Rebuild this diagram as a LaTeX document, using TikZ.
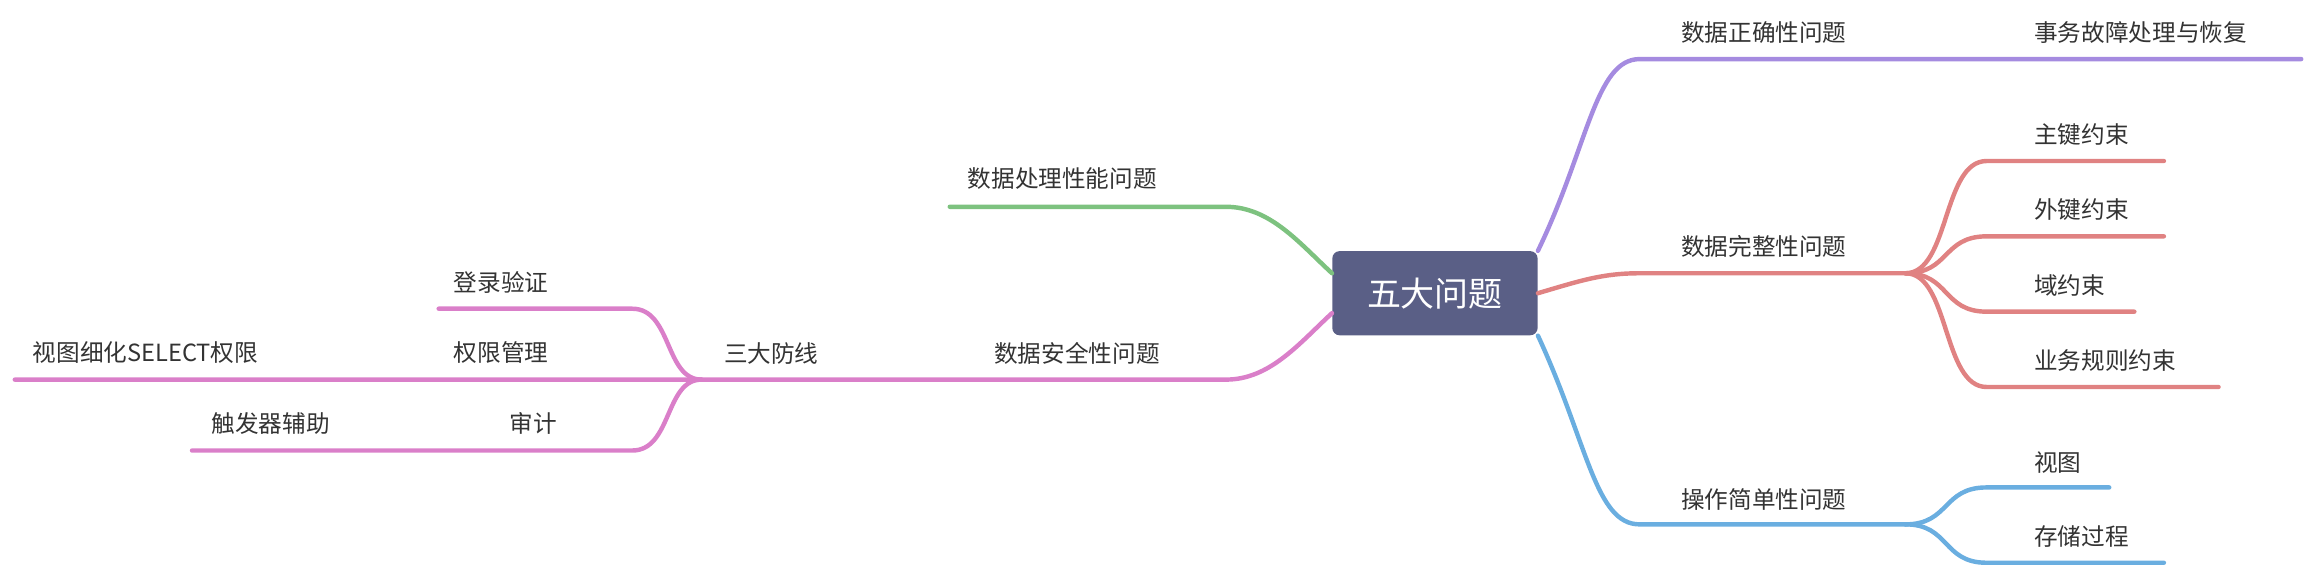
\documentclass[tikz,border=0pt]{standalone}
\usepackage{fontspec}
\newfontfamily\cjk{Noto Sans CJK SC}
\definecolor{rootc}{HTML}{5A5F86}
\definecolor{pur}{HTML}{A58BE0}
\definecolor{red}{HTML}{E08282}
\definecolor{blu}{HTML}{6AAEE0}
\definecolor{grn}{HTML}{7DC27F}
\definecolor{pnk}{HTML}{DA7FC9}
\definecolor{txt}{HTML}{333333}
\begin{document}
\begin{tikzpicture}[x=1pt,y=-1pt,
  lab/.style={anchor=west,inner sep=0pt,text=txt,font=\cjk\fontsize{16}{16}\selectfont},
  br/.style={line width=3pt,line cap=round}]
\useasboundingbox (0,0) rectangle (1568,384);
\node[fill=rootc,rounded corners=5pt,minimum width=139pt,minimum height=57pt,text=white,font=\cjk\fontsize{23}{23}\selectfont] (root) at (971.5,198.5) {五大问题};
% labels
\node[lab] (a) at (1138,22) {数据正确性问题};
\node[lab] (a1) at (1377,22) {事务故障处理与恢复};
\node[lab] (b) at (1138,167) {数据完整性问题};
\node[lab] (b1) at (1377,91) {主键约束};
\node[lab] (b2) at (1377,142) {外键约束};
\node[lab] (b3) at (1377,193) {域约束};
\node[lab] (b4) at (1377,244) {业务规则约束};
\node[lab] (c) at (1138,338) {操作简单性问题};
\node[lab] (c1) at (1377,313) {视图};
\node[lab] (c2) at (1377,363) {存储过程};
\node[lab] (d) at (655,121) {数据处理性能问题};
\node[lab] (e) at (673,239) {数据安全性问题};
\node[lab] (f) at (490,239) {三大防线};
\node[lab] (f1) at (307,191) {登录验证};
\node[lab] (f2) at (307,239) {权限管理};
\node[lab] (f3) at (345,287) {审计};
\node[lab] (g2) at (22,239) {视图细化SELECT权限};
\node[lab] (g3) at (143,287) {触发器辅助};
% right
\draw[br,pur] (root.north east) .. controls (1075,100) and (1080,40) .. (1110,40) -- (1558,40);
\draw[br,red] (root.east) .. controls (1070,190) and (1085,185) .. (1110,185) -- (1290,185);
\foreach \y/\e in {109/1465,160/1465,211/1445,262/1502}
  \draw[br,red] (1290,185) .. controls (1320,185) and (1315,\y) .. (1345,\y) -- (\e,\y);
\draw[br,blu] (root.south east) .. controls (1075,300) and (1080,355) .. (1110,355) -- (1290,355);
\foreach \y/\e in {330/1428,381/1465}
  \draw[br,blu] (1290,355) .. controls (1320,355) and (1315,\y) .. (1345,\y) -- (\e,\y);
% left
\draw[br,grn] (root.west|-0,185) .. controls (880,165) and (860,140) .. (830,140) -- (643,140);
\draw[br,pnk] (root.west|-0,212) .. controls (880,232) and (860,257) .. (830,257) -- (10,257);
\foreach \y/\e in {209/297,305/130}
  \draw[br,pnk] (475,257) .. controls (450,257) and (455,\y) .. (428,\y) -- (\e,\y);
\end{tikzpicture}
\end{document}
